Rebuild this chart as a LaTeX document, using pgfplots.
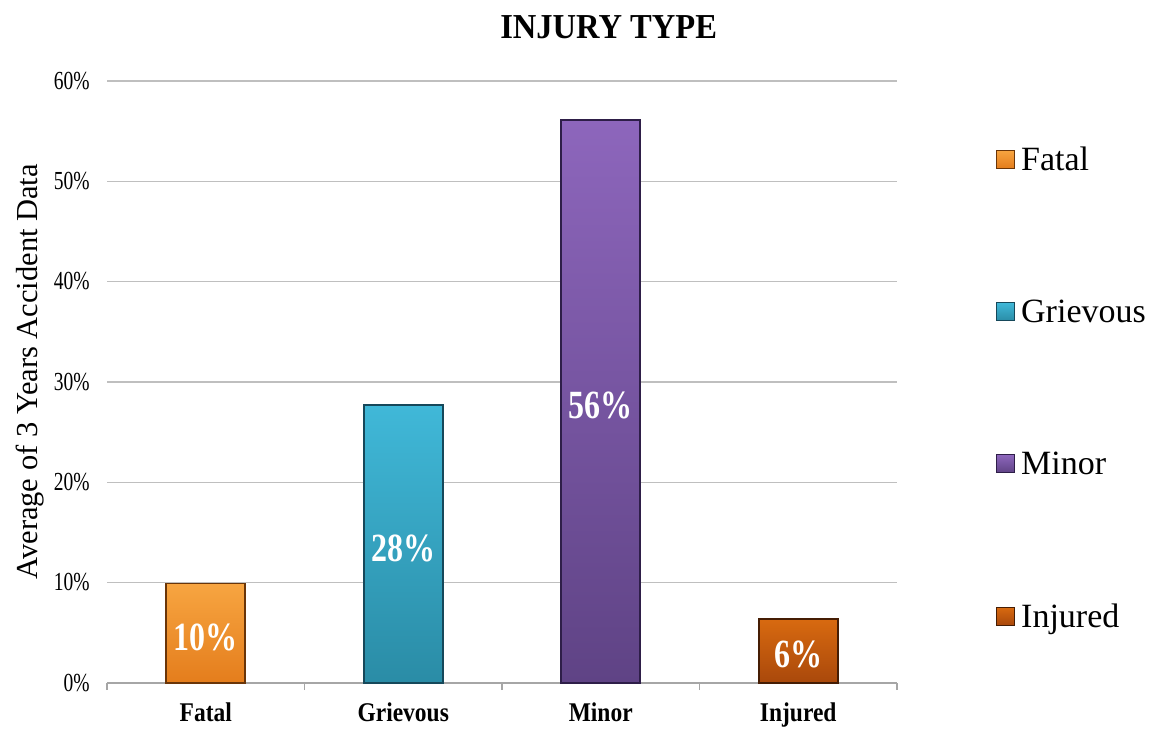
\documentclass[border=0pt]{standalone}
\usepackage{pgfplots}
\pgfplotsset{compat=1.18}
\usepackage{fontspec}
\setmainfont{Liberation Serif}
% condensed cuts of the serif face for tick labels, category names and values
\newfontfamily\ticktxt[FakeStretch=0.75]{Liberation Serif}
\newfontfamily\cattxt[FakeStretch=0.87]{Liberation Serif}
\newfontfamily\valtxt[FakeStretch=0.8]{Liberation Serif}
\newfontfamily\titletxt[FakeStretch=0.93]{Liberation Serif}

\definecolor{fataltop}{HTML}{F7A541}
\definecolor{fatalbot}{HTML}{E47D1C}
\definecolor{fataledge}{HTML}{6A3508}
\definecolor{grievtop}{HTML}{40B8D8}
\definecolor{grievbot}{HTML}{2A8CA6}
\definecolor{grievedge}{HTML}{16485A}
\definecolor{minortop}{HTML}{8D66BC}
\definecolor{minorbot}{HTML}{5F4385}
\definecolor{minoredge}{HTML}{2E1E48}
\definecolor{injtop}{HTML}{D86A10}
\definecolor{injbot}{HTML}{A9480B}
\definecolor{injedge}{HTML}{451D04}
\definecolor{gridgray}{HTML}{BFBFBF}
\definecolor{axisgray}{HTML}{A6A6A6}

\pgfplotsset{
  sq legend/.style={
    legend image code/.code={\draw[##1, line width=1pt] (0pt,-9pt) rectangle (18pt,9pt);}
  },
}

\begin{document}
\begin{tikzpicture}
\useasboundingbox (0,0) rectangle (1150pt,729pt);
\begin{axis}[
  at={(107pt,46pt)}, anchor=south west,
  scale only axis, width=790pt, height=602pt,
  xmin=-0.5, xmax=3.5, ymin=0, ymax=60,
  axis x line*=bottom, axis y line*=left,
  y axis line style={draw=none},
  x axis line style={draw=axisgray, line width=1.3pt},
  xtick={0,1,2,3},
  xticklabels={Fatal,Grievous,Minor,Injured},
  major x tick style={draw=none},
  minor xtick={-0.5,0.5,1.5,2.5,3.5},
  minor x tick style={draw=axisgray, line width=1.3pt},
  minor tick length=7pt,
  tick align=outside,
  ytick={0,10,...,60},
  major y tick style={draw=none},
  /pgf/number format/assume math mode=true,
  yticklabel={\pgfmathprintnumber{\tick}\%},
  yticklabel style={font=\ticktxt\fontsize{26}{30}\selectfont, anchor=base east, xshift=-13pt, yshift=-8pt, inner sep=0pt},
  xticklabel style={font=\cattxt\fontsize{27}{30}\selectfont\bfseries, anchor=base, yshift=-34pt, inner sep=0pt},
  ymajorgrids,
  grid style={draw=gridgray, line width=1.3pt},
  ylabel={Average of 3 Years Accident Data},
  every axis y label/.style={at={(axis description cs:0,0.517)}, xshift=-77pt, rotate=90, anchor=center, font=\fontsize{30.5}{34}\selectfont},
  title={INJURY TYPE},
  title style={at={(axis description cs:0.635,1)}, anchor=base, yshift=37pt, inner sep=0pt, font=\titletxt\fontsize{35}{38}\selectfont\bfseries},
  bar width=0.4,
  nodes near coords={\pgfmathprintnumber[fixed,precision=0]{\pgfplotspointmeta}\%},
  visualization depends on={rawy \as \rawy},
  nodes near coords style={anchor=center, text=white, font=\valtxt\fontsize{40}{44}\selectfont\bfseries,
    shift={(axis direction cs:0,-\rawy/2)}, yshift=-4pt},
  legend style={at={(1.1215,0.898)}, anchor=north west, draw=none, fill=none,
    font=\fontsize{34}{37}\selectfont, row sep=124pt,
    /tikz/every odd column/.append style={column sep=4pt}},
  legend cell align=left,
]
\addplot[ybar, bar shift=0pt, draw=fataledge, line width=1.6pt, top color=fataltop, bottom color=fatalbot, sq legend]
  coordinates {(0,9.9)};
\addlegendentry{Fatal}
\addplot[ybar, bar shift=0pt, draw=grievedge, line width=1.6pt, top color=grievtop, bottom color=grievbot, sq legend]
  coordinates {(1,27.7)};
\addlegendentry{Grievous}
\addplot[ybar, bar shift=0pt, draw=minoredge, line width=1.6pt, top color=minortop, bottom color=minorbot, sq legend]
  coordinates {(2,56.1)};
\addlegendentry{Minor}
\addplot[ybar, bar shift=0pt, draw=injedge, line width=1.6pt, top color=injtop, bottom color=injbot, sq legend]
  coordinates {(3,6.4)};
\addlegendentry{Injured}
\end{axis}
\end{tikzpicture}
\end{document}
